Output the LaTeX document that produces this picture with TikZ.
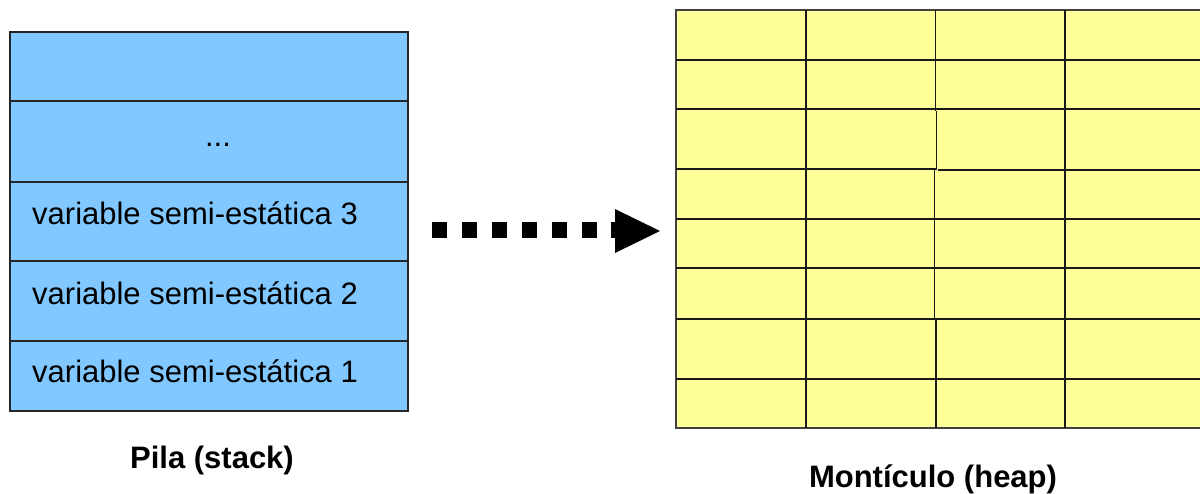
\documentclass[tikz,border=0pt]{standalone}
\usepackage{fontspec}
\setmainfont{Liberation Sans}
\definecolor{stackblue}{RGB}{128,200,255}
\definecolor{heapyellow}{RGB}{255,255,153}
\begin{document}
\begin{tikzpicture}[x=1pt,y=-1pt,
  cell/.style={draw=black!85, line width=1.3pt, fill=stackblue, minimum width=398pt, inner sep=0pt, outer sep=0pt, anchor=north west},
  celltext/.style={anchor=base west, inner sep=0pt, font=\fontsize{31}{37}\selectfont},
  title/.style={anchor=base, inner sep=0pt, font=\fontsize{31}{37}\selectfont\bfseries},
  grid/.style={line width=1.3pt, draw=black!90},
  dots/.style={line width=16pt, dash pattern=on 15pt off 14.9pt}]
\useasboundingbox (0,0) rectangle (1200,494);
% stack
\node[cell, minimum height=69pt] (s5) at (10,32) {};
\node[cell, minimum height=81pt] (s4) at (10,101) {};
\node[cell, minimum height=79pt] (s3) at (10,182) {};
\node[cell, minimum height=80pt] (s2) at (10,261) {};
\node[cell, minimum height=70pt] (s1) at (10,341) {};
\node[anchor=base, inner sep=0pt, font=\fontsize{31}{37}\selectfont] (dd) at (218,147) {...};
\node[celltext] (t3) at (32,225) {variable semi-estática 3};
\node[celltext] (t2) at (32,305) {variable semi-estática 2};
\node[celltext] (t1) at (32,383) {variable semi-estática 1};
\node[title] (pila) at (212,468) {Pila (stack)};
% heap
\begin{scope}
\clip (0,0) rectangle (1200,494);
\node[draw=black!75, line width=1.3pt, fill=heapyellow, minimum width=540pt, minimum height=418pt, inner sep=0pt, outer sep=0pt, anchor=north west] (heap) at (676,10) {};
\foreach \yy in {60,109,219,268,319,379} \draw[grid] (676,\yy) -- (1210,\yy);
\draw[grid] (676,169) -- (936.5,169);
\draw[grid] (937.5,170) -- (1210,170);
\draw[grid] (806,10) -- (806,428);
\draw[grid] (1065,10) -- (1065,428);
\draw[grid] (935.7,10) -- (935.7,111);
\draw[grid] (936.5,111) -- (936.5,170);
\draw[grid] (934.3,170) -- (934.3,320);
\draw[grid] (936,320) -- (936,428);
\end{scope}
\node[title] (mont) at (933,487) {Montículo (heap)};
% arrow
\coordinate (astart) at (432,230);
\coordinate (abase) at (627,230);
\coordinate (atip) at (660,231);
\draw[dots] (astart) -- (abase);
\fill (615,209) -- (atip) -- (615,253) -- cycle;
\end{tikzpicture}
\end{document}
